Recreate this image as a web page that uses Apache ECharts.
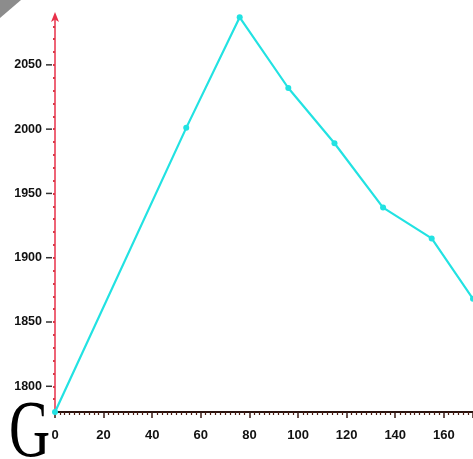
<!DOCTYPE html>
<html>
<head>
<meta charset="utf-8">
<script src="https://cdn.jsdelivr.net/npm/echarts@6/dist/echarts.min.js"></script>
<style>
html,body{margin:0;padding:0;background:#fff;}
#chart{width:473px;height:459px;}
</style>
</head>
<body>
<div id="chart"></div>
<script>
var xValues = [0, 54, 76, 96, 115, 135, 155, 172];
var yValues = [1780, 2001, 2087, 2032, 1989, 1939, 1915, 1868];
var xTickLabels = ['0', '20', '40', '60', '80', '100', '120', '140', '160'];
var yTickLabels = ['1800', '1850', '1900', '1950', '2000', '2050'];

var points = xValues.map(function (x, i) { return [x, yValues[i]]; });

var chart = echarts.init(document.getElementById('chart'), null, {renderer: 'canvas'});
chart.setOption({
  animation: false,
  backgroundColor: '#ffffff',
  grid: {left: 55, right: 0, top: 16, bottom: 47},
  xAxis: {
    type: 'value',
    min: 0,
    max: 172,
    interval: 20,
    splitLine: {show: false},
    axisLine: {show: true, lineStyle: {color: '#2a1410', width: 2}},
    axisTick: {show: true, length: 6, lineStyle: {color: '#3a1a14', width: 1.5}},
    minorTick: {show: true, splitNumber: 10, length: 3, lineStyle: {color: '#4a1c12', width: 1.2}},
    axisLabel: {
      margin: 17,
      color: '#111',
      fontWeight: 'bold',
      fontSize: 13,
      fontFamily: 'Liberation Sans, Arial, sans-serif',
      showMaxLabel: false,
      formatter: function (v) {
        var s = String(v);
        return xTickLabels.indexOf(s) >= 0 ? s : '';
      }
    }
  },
  yAxis: {
    type: 'value',
    min: 1780,
    max: 2088,
    interval: 10,
    splitLine: {show: false},
    axisLine: {
      show: true,
      symbol: ['none', 'arrow'],
      symbolSize: [6, 10],
      symbolOffset: [0, 4],
      lineStyle: {color: '#e8304a', width: 1.5}
    },
    axisTick: {show: true, length: 2, lineStyle: {color: '#d83a4a', width: 2}},
    axisLabel: {
      margin: 3,
      color: '#111',
      fontWeight: 'bold',
      fontSize: 13,
      fontFamily: 'Liberation Sans, Arial, sans-serif',
      showMaxLabel: false,
      formatter: function (v) {
        var s = String(v);
        return yTickLabels.indexOf(s) >= 0 ? '{v|' + s + '}{t|}' : '';
      },
      rich: {
        v: {color: '#111', fontWeight: 'bold', fontSize: 12.5, fontFamily: 'Liberation Sans, Arial, sans-serif', padding: [0, 4, 0, 0]},
        t: {width: 6, height: 1.5, backgroundColor: '#333'}
      }
    }
  },
  series: [{
    type: 'line',
    data: points,
    symbol: 'circle',
    symbolSize: 6,
    showSymbol: true,
    lineStyle: {color: '#22e2e2', width: 2.2},
    itemStyle: {color: '#22e2e2'}
  }],
  graphic: [
    {
      type: 'polygon',
      shape: {points: [[0, 0], [21, 0], [0, 18]]},
      style: {fill: '#8c8c8c'}
    },
    {
      type: 'text',
      left: 9,
      top: 394,
      scaleY: 1.42,
      style: {
        text: 'G',
        fill: '#000',
        font: '57px "Liberation Serif", "DejaVu Serif", serif'
      }
    }
  ]
});
</script>
</body>
</html>
